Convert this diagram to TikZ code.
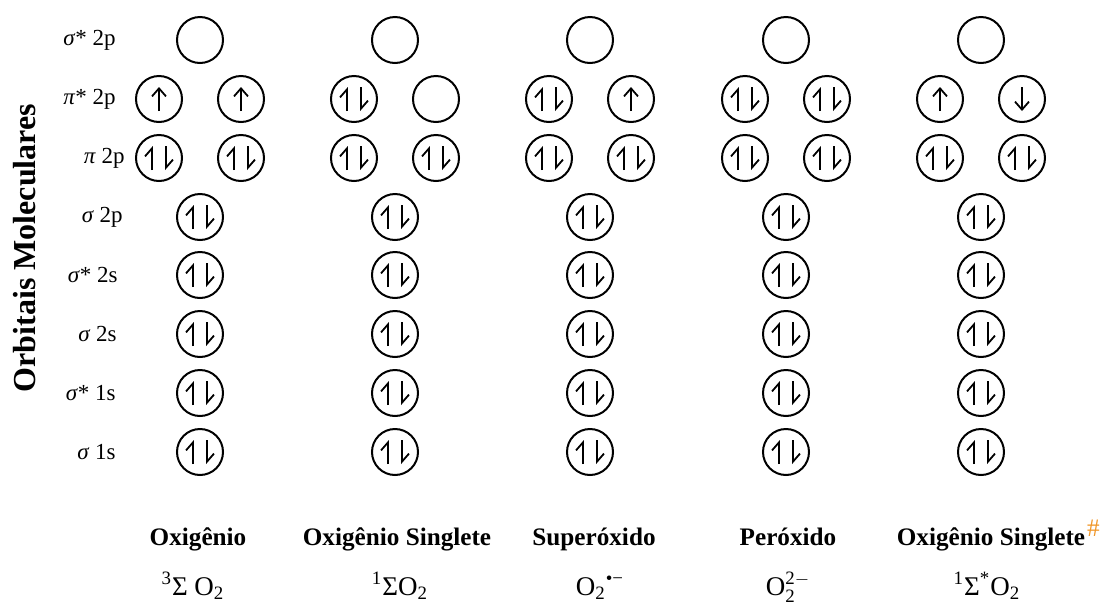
\documentclass[tikz,border=0pt]{standalone}
\usepackage{fontspec}
\setmainfont{Liberation Serif}
\setmathrm{Liberation Serif}
\usetikzlibrary{arrows.meta}
\definecolor{laranja}{RGB}{240,150,40}

\tikzset{
  orb/.style={draw, circle, line width=1pt, minimum size=23pt, inner sep=0pt},
  eletron/.style={line width=0.9pt, -{Straight Barb[length=4pt,width=7pt]}},
  spin/.style={line width=0.9pt, -{Straight Barb[left,length=4pt,width=7pt]}},
  rotulo/.style={anchor=east, inner sep=0pt, font=\fontsize{11.5}{13}\selectfont},
  nome/.style={anchor=base, inner sep=0pt, font=\fontsize{12.6}{14}\selectfont\bfseries},
  formula/.style={anchor=base, inner sep=0pt, font=\fontsize{13.5}{15}\selectfont},
  pics/duplo/.style={code={
    \draw[spin] (-3.5pt,-6pt) -- (-3.5pt,6pt);
    \draw[spin] (3.5pt,6pt) -- (3.5pt,-6pt);}},
  pics/sobe/.style={code={\draw[eletron] (0,-6pt) -- (0,6pt);}},
  pics/desce/.style={code={\draw[eletron] (0,6pt) -- (0,-6pt);}},
}

\begin{document}
\begin{tikzpicture}[x=0.5pt,y=-0.5pt]
  \useasboundingbox (0,0) rectangle (1105,606);

  % eixo
  \node[rotate=90, font=\fontsize{16}{18}\selectfont\bfseries] (eixo) at (25,248) {Orbitais Moleculares};

  % rotulos dos orbitais
  \node[rotulo] (l-sa2p) at (116,40) {\textit{σ}* 2p};
  \node[rotulo] (l-pia) at (116,99) {\textit{π}* 2p};
  \node[rotulo] (l-pi) at (125,158) {\textit{π} 2p};
  \node[rotulo] (l-s2p) at (123,217) {\textit{σ} 2p};
  \node[rotulo] (l-sa2s) at (118,275) {\textit{σ}* 2s};
  \node[rotulo] (l-s2s) at (117,334) {\textit{σ} 2s};
  \node[rotulo] (l-sa1s) at (116,393) {\textit{σ}* 1s};
  \node[rotulo] (l-s1s) at (116,452) {\textit{σ} 1s};

  % orbitais
  \foreach \c/\x in {1/200,2/395,3/590,4/786,5/981} {
    \node[orb] (sa2p-\c) at (\x,40) {};
    \node[orb] (pia-\c) at (\x-41,99) {};
    \node[orb] (pib-\c) at (\x+41,99) {};
    \node[orb] (pa-\c) at (\x-41,158) {};
    \node[orb] (pb-\c) at (\x+41,158) {};
    \foreach \n/\y in {s2p/217,sa2s/275,s2s/334,sa1s/393,s1s/452}
      \node[orb] (\n-\c) at (\x,\y) {};
  }

  % eletrons
  \foreach \n in {pa,pb,s2p,sa2s,s2s,sa1s,s1s}
    \foreach \c in {1,...,5}
      \pic at (\n-\c) {duplo};
  \pic at (pia-1) {sobe};
  \pic at (pib-1) {sobe};
  \pic at (pia-2) {duplo};
  \pic at (pia-3) {duplo};
  \pic at (pib-3) {sobe};
  \pic at (pia-4) {duplo};
  \pic at (pib-4) {duplo};
  \pic at (pia-5) {sobe};
  \pic at (pib-5) {desce};

  % especies
  \node[nome] (n-1) at (198,545) {Oxigênio};
  \node[nome] (n-2) at (397,545) {Oxigênio Singlete};
  \node[nome] (n-3) at (594,545) {Superóxido};
  \node[nome] (n-4) at (788,545) {Peróxido};
  \node[nome] (n-5) at (991,545) {Oxigênio Singlete\rlap{\hspace{1pt}\raisebox{0.35em}{\mdseries\color{laranja}\#}}};

  \node[formula] (f-1) at (193,595) {\textsuperscript{3}Σ O\textsubscript{2}};
  \node[formula] (f-2) at (400,595) {\textsuperscript{1}ΣO\textsubscript{2}};
  \node[formula] (f-3) at (600,595) {O\textsubscript{2}\textsuperscript{•−}};
  \node[formula] (f-4) at (788,595) {$\mathrm{O}_{\mathrm{2}}^{\mathrm{2}-}$};
  \node[formula] (f-5) at (987,595) {\textsuperscript{1}Σ\textsuperscript{*}O\textsubscript{2}};
\end{tikzpicture}
\end{document}
